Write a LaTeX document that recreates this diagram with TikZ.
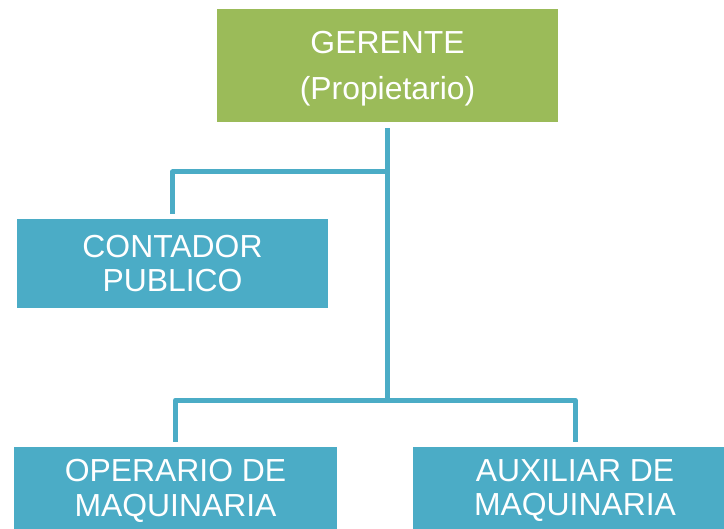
\documentclass[tikz,border=0pt]{standalone}
\usepackage{fontspec}
\setmainfont{Liberation Sans}
\definecolor{boxgreen}{HTML}{9BBB59}
\definecolor{boxblue}{HTML}{4BACC6}
\begin{document}
\begin{tikzpicture}[x=1bp,y=-1bp,
  box/.style={rectangle, inner sep=0pt, text=white, align=center,
    font=\fontsize{32}{35}\selectfont},
  greenbox/.style={box, fill=boxgreen},
  bluebox/.style={box, fill=boxblue},
  conn/.style={draw=boxblue, line width=5bp, line join=round}]
\useasboundingbox (0,0) rectangle (724,529);
\clip (0,0) rectangle (724,529);
\node[greenbox, minimum width=341bp, minimum height=113bp] (ger) at (387.5,65.5) {};
\node[box] (gertext) at ([yshift=-3bp]ger.center)
  {GERENTE\\[11bp](Propietario)};
\node[bluebox, minimum width=311bp, minimum height=89bp] (cont) at (172.5,263.5)
  {CONTADOR\\PUBLICO};
\node[bluebox, minimum width=323bp, minimum height=87bp] (oper) at (175.5,490.5)
  {OPERARIO DE\\MAQUINARIA};
\node[bluebox, minimum width=324bp, minimum height=87bp] (aux) at (575,490.5)
  {AUXILIAR DE\\MAQUINARIA};
\coordinate (j1) at (387.5,172);
\coordinate (j2) at (387.5,400);
\draw[conn, shorten <=6bp] (ger.south) -- (j2);
\draw[conn, shorten >=5bp] (j1) -| (cont.north);
\draw[conn, shorten <=5bp, shorten >=5bp] (oper.north) |- (j2) -| (aux.north);
\end{tikzpicture}
\end{document}
